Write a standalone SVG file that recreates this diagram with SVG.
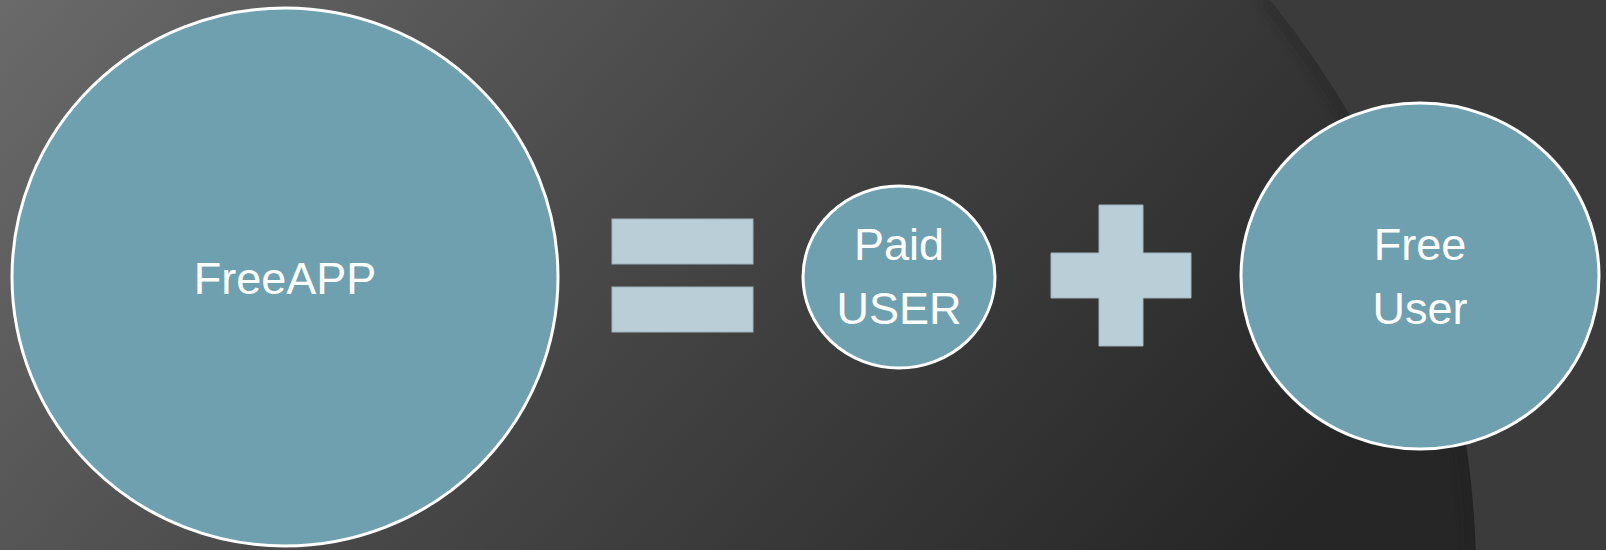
<svg xmlns="http://www.w3.org/2000/svg" width="1606" height="550" viewBox="0 0 1606 550">
<defs>
<linearGradient id="bg" x1="0" y1="0" x2="1" y2="0.3">
<stop offset="0" stop-color="#6a6a6a"/>
<stop offset="0.45" stop-color="#494949"/>
<stop offset="1" stop-color="#262626"/>
</linearGradient>
<filter id="sh" x="-0.2" y="-0.2" width="1.4" height="1.4">
<feGaussianBlur stdDeviation="5"/>
</filter>
<style>
.node{fill:#6fa0b0;stroke:#ffffff;stroke-width:3}
.lbl{font-family:"Liberation Sans",Arial,sans-serif;font-size:45px;fill:#ffffff;text-anchor:middle}
.op{fill:#b9ced6;stroke:#9fb4bc;stroke-width:1}
</style>
</defs>
<rect width="1606" height="550" fill="url(#bg)"/>
<path d="M1264,0 A920,920 0 0 1 1471,560" fill="none" stroke="#1a1a1a" stroke-width="8" opacity="0.4" filter="url(#sh)"/>
<path d="M1270,0 A920,920 0 0 1 1476,560 L1606,560 L1606,0 Z" fill="#3b3b3b"/>
<g id="freeapp">
<ellipse class="node" cx="285" cy="277" rx="273" ry="269"/>
<text class="lbl" x="285" y="294">FreeAPP</text>
</g>
<g id="equals">
<rect class="op" x="612" y="219" width="141" height="45"/>
<rect class="op" x="612" y="287" width="141" height="45"/>
</g>
<g id="paid">
<ellipse class="node" cx="899" cy="277" rx="96" ry="91"/>
<text class="lbl" x="899" y="260">Paid</text>
<text class="lbl" x="899" y="324">USER</text>
</g>
<g id="plus">
<path class="op" d="M1099,205 H1143 V253 H1191 V298 H1143 V346 H1099 V298 H1051 V253 H1099 Z"/>
</g>
<g id="free">
<ellipse class="node" cx="1420" cy="276" rx="179" ry="173"/>
<text class="lbl" x="1420" y="260">Free</text>
<text class="lbl" x="1420" y="324">User</text>
</g>
<g id="connectors"/>
</svg>
